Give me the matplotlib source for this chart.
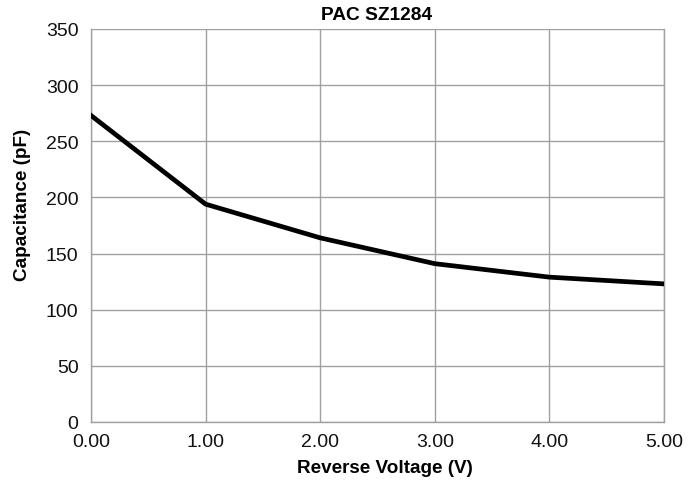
import matplotlib
matplotlib.use('Agg')
import matplotlib.pyplot as plt

voltage = [0.0, 1.0, 2.0, 3.0, 4.0, 5.0]
capacitance = [273, 194, 164, 141, 129, 123]
x_ticks = [0, 1, 2, 3, 4, 5]
x_tick_labels = ['0.00', '1.00', '2.00', '3.00', '4.00', '5.00']
y_ticks = [0, 50, 100, 150, 200, 250, 300, 350]

plt.rcParams['font.family'] = ['Liberation Sans', 'DejaVu Sans']

W, H = 691, 481
fig = plt.figure(figsize=(W / 100, H / 100), dpi=100)
ax = fig.add_axes([91 / W, 1 - 423 / H, 573 / W, 393 / H])

ax.plot(voltage, capacitance, color='black', linewidth=3.4, solid_joinstyle='round', zorder=3)

ax.set_xlim(0, 5)
ax.set_ylim(0, 350)
ax.set_xticks(x_ticks)
ax.set_xticklabels(x_tick_labels)
ax.set_yticks(y_ticks)
ax.tick_params(length=0, labelsize=14, colors='#111111')
ax.tick_params(axis='x', pad=8)
ax.tick_params(axis='y', pad=9)
ax.grid(True, color='#a0a0a0', linewidth=1.0)
for s in ax.spines.values():
    s.set_color('#a0a0a0')
    s.set_linewidth(1.0)
ax.spines['top'].set_visible(False)

fig.text(377 / W, 1 - 15 / H, 'PAC SZ1284', fontsize=13.8, fontweight='bold',
         ha='center', va='center')
fig.text(385 / W, 1 - 469 / H, 'Reverse Voltage (V)', fontsize=13.6, fontweight='bold',
         ha='center', va='center')
fig.text(23 / W, 1 - 205 / H, 'Capacitance (pF)', fontsize=13.6, fontweight='bold',
         ha='center', va='center', rotation=90)

fig.savefig('out.png', dpi=100)
